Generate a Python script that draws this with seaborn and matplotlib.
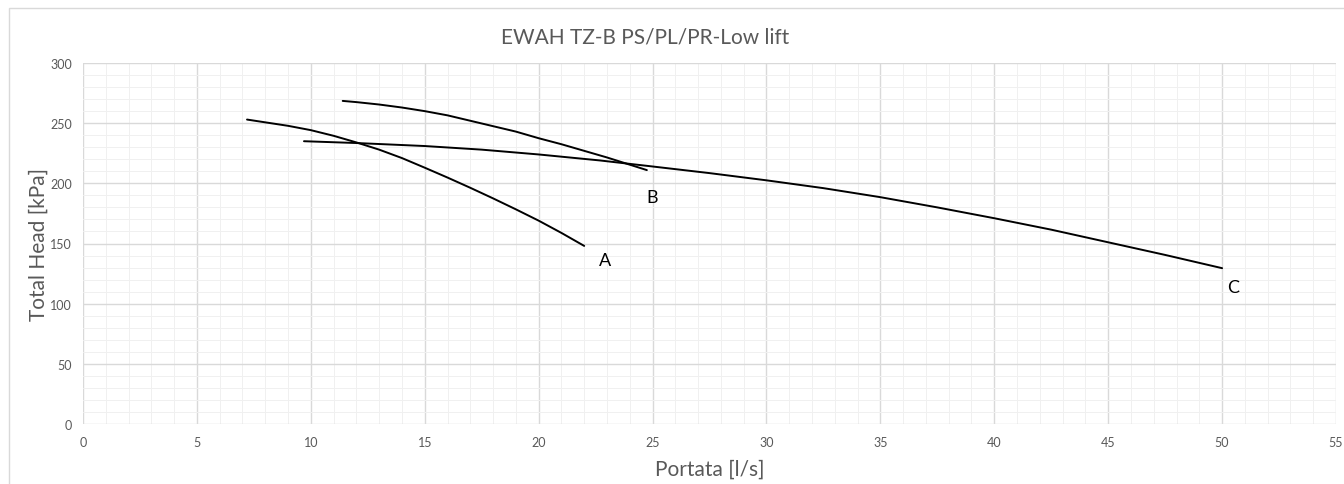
import seaborn as sns
import matplotlib.pyplot as plt
import matplotlib.patches as mpatches
import pandas as pd
from matplotlib.ticker import MultipleLocator

sns.set_theme(style="white")
plt.rcParams['font.family'] = ['Lato', 'DejaVu Sans']

# curve data (Portata l/s, Total Head kPa)
a_x = [7.2, 9, 10, 11, 12, 13, 14, 15, 16, 17, 18, 19, 20, 21, 22]
a_y = [253, 247.8, 244.2, 239.5, 234, 228, 221, 213, 204.8, 196.3, 187.5, 178.4, 169, 158.8, 148]
b_x = [11.4, 12, 13, 14, 15, 16, 17, 18, 19, 20, 21, 22, 23, 24, 24.75]
b_y = [268.5, 267.5, 265.5, 263, 260, 256.5, 252, 247.5, 243, 237.5, 232.5, 227, 221.5, 215.5, 211]
c_x = [9.7, 12, 15, 17.5, 20, 22.7, 25, 27.5, 30, 32.5, 35, 37.5, 40, 42.5, 45, 47.5, 50]
c_y = [235, 233.5, 231, 228, 224, 219, 214, 208.5, 202.5, 196, 188.5, 180, 171, 161.5, 151, 140.5, 129.5]
labels = ["A", "B", "C"]
label_pos = [(22.9, 136), (25.0, 189), (50.5, 114)]

df = pd.concat([
    pd.DataFrame({"Portata": a_x, "Head": a_y, "curve": "A"}),
    pd.DataFrame({"Portata": b_x, "Head": b_y, "curve": "B"}),
    pd.DataFrame({"Portata": c_x, "Head": c_y, "curve": "C"}),
], ignore_index=True)

fig = plt.figure(figsize=(13.44, 4.85), dpi=100)
ax = fig.add_axes([83/1344, 60/485, 1253/1344, 361/485])

sns.lineplot(data=df, x="Portata", y="Head", hue="curve", palette=["black"]*3,
             sort=False, legend=False, linewidth=1.4, ax=ax)

for lab, (lx, ly) in zip(labels, label_pos):
    ax.text(lx, ly, lab, fontsize=13, color="black", ha="center", va="center")

ax.set_xlim(0, 55); ax.set_ylim(0, 300)
ax.xaxis.set_major_locator(MultipleLocator(5))
ax.xaxis.set_minor_locator(MultipleLocator(1))
ax.yaxis.set_major_locator(MultipleLocator(50))
ax.yaxis.set_minor_locator(MultipleLocator(10))
ax.grid(which="major", color="#d9d9d9", linewidth=1.0)
ax.grid(which="minor", color="#f0f0f0", linewidth=0.7)
ax.set_axisbelow(True)
for s in ax.spines.values():
    s.set_visible(False)
ax.tick_params(which="both", length=0, labelsize=9, labelcolor="#595959")
ax.tick_params(axis="x", pad=9)
ax.tick_params(axis="y", pad=8)

ax.set_xlabel("Portata [l/s]", fontsize=15, color="#595959", labelpad=7)
ax.set_ylabel("Total Head [kPa]", fontsize=15, color="#595959", labelpad=1)
fig.text(645/1344, 1 - 37/485, "EWAH TZ-B PS/PL/PR-Low lift", fontsize=15,
         color="#595959", ha="center", va="center")

# chart area border (top and left visible)
fig.patches.append(mpatches.Rectangle((9/1344, -0.1), 1.2, 1 - 9/485 + 0.1,
                                      transform=fig.transFigure, fill=False,
                                      edgecolor="#d9d9d9", linewidth=1.0))

plt.savefig("out.png", dpi=100)
